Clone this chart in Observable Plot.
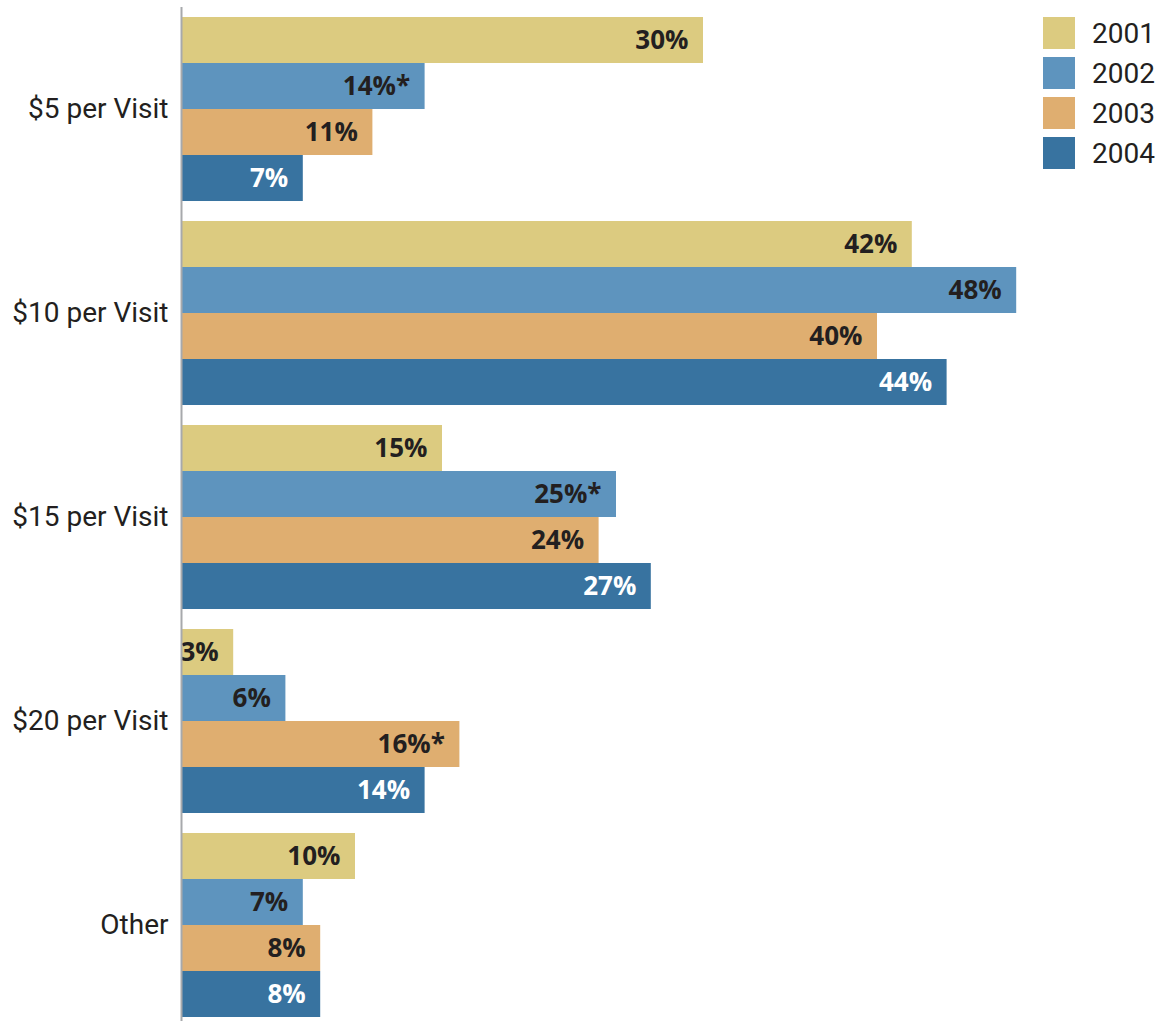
<!DOCTYPE html>
<html>
<head>
<meta charset="utf-8">
<script src="https://cdn.jsdelivr.net/npm/d3@7"></script>
<script src="https://cdn.jsdelivr.net/npm/@observablehq/plot@0.6"></script>
<style>
  html, body { margin: 0; padding: 0; background: #fff; }
  #wrap { position: relative; width: 1158px; height: 1021px; }
  #legend { position: absolute; left: 1043px; top: 17px; font-family: Roboto, "Liberation Sans", sans-serif; font-size: 28px; color: #231f20; }
  .item { display: flex; align-items: center; height: 32px; margin-bottom: 8px; }
  .sw { width: 32px; height: 32px; margin-right: 17px; }
</style>
</head>
<body>
<div id="wrap"><div id="legend"></div></div>
<script>
const categories = ["$5 per Visit", "$10 per Visit", "$15 per Visit", "$20 per Visit", "Other"];
const years = ["2001", "2002", "2003", "2004"];
const colors = ["#dccb80", "#5e94be", "#dfae70", "#3873a0"];
const values2001 = [30, 42, 15, 3, 10];
const values2002 = [14, 48, 25, 6, 7];
const values2003 = [11, 40, 24, 16, 8];
const values2004 = [7, 44, 27, 14, 8];
const marks2001 = ["", "", "", "", ""];
const marks2002 = ["*", "", "*", "", ""];
const marks2003 = ["", "", "", "*", ""];
const marks2004 = ["", "", "", "", ""];

const seriesValues = [values2001, values2002, values2003, values2004];
const seriesMarks = [marks2001, marks2002, marks2003, marks2004];
const labelColors = ["#231f20", "#231f20", "#231f20", "#ffffff"];

// group band: 184px split into 4 bars of 46px
const band = 184, bar = band / years.length;

const labelFont = "'Open Sans', 'DejaVu Sans', sans-serif";
const marks = [];
years.forEach((y, j) => {
  const rows = categories.map((c, i) => ({
    category: c, year: y, value: seriesValues[j][i],
    label: seriesValues[j][i] + "%" + seriesMarks[j][i]
  }));
  marks.push(Plot.barX(rows, {
    x: "value", y: "category", fill: colors[j],
    insetTop: bar * j, insetBottom: bar * (years.length - 1 - j)
  }));
  marks.push(Plot.text(rows, {
    x: "value", y: "category", text: "label", textAnchor: "end",
    dx: -15, dy: bar * j + bar / 2 - band / 2,
    fill: labelColors[j], fontSize: 26, fontWeight: "bold", fontFamily: labelFont
  }));
});

const chart = Plot.plot({
  width: 1158,
  height: 1021,
  marginLeft: 181,
  marginRight: 107,
  marginTop: 17,
  marginBottom: 4,
  x: {domain: [0, 50], axis: null},
  y: {domain: categories, paddingInner: 0.098, paddingOuter: 0, round: false, axis: null},
  marks: [
    ...marks,
    Plot.axisY({anchor: "left", tickSize: 0, tickPadding: 13, label: null, fontSize: 28, fontFamily: "Roboto, sans-serif", fill: "#231f20"}),
    Plot.ruleX([0], {stroke: "#a7a9ac", strokeWidth: 2, insetTop: -10, insetBottom: -10})
  ]
});
document.getElementById("wrap").prepend(chart);

const legend = document.getElementById("legend");
years.forEach((y, i) => {
  const item = document.createElement("div");
  item.className = "item";
  const sw = document.createElement("div");
  sw.className = "sw";
  sw.style.background = colors[i];
  const t = document.createElement("span");
  t.textContent = y;
  item.appendChild(sw);
  item.appendChild(t);
  legend.appendChild(item);
});
</script>
</body>
</html>
